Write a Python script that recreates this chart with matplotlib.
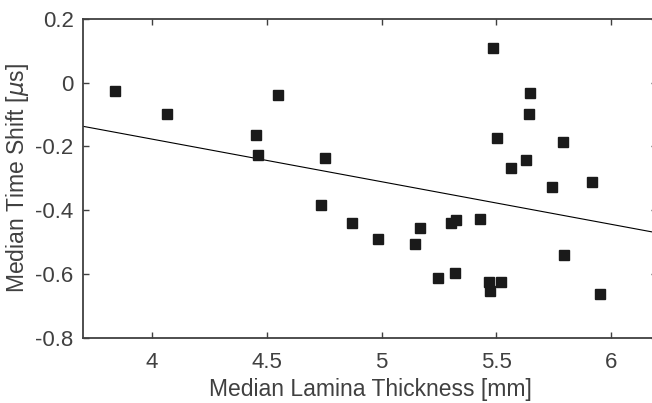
import numpy as np
import matplotlib
matplotlib.use('Agg')
import matplotlib.pyplot as plt

# median lamina thickness [mm] vs median time shift [us]
thickness = [3.837, 4.063, 4.547, 4.451, 4.460, 4.751, 4.734, 4.869, 4.986,
             5.487, 5.648, 5.644, 5.504, 5.792, 5.631, 5.565, 5.744, 5.917,
             5.322, 5.304, 5.430, 5.169, 5.147, 5.796, 5.318, 5.247, 5.466,
             5.522, 5.470, 5.953]
time_shift = [-0.027, -0.097, -0.038, -0.165, -0.228, -0.237, -0.385, -0.441, -0.490,
              0.108, -0.033, -0.099, -0.175, -0.187, -0.244, -0.269, -0.328, -0.313,
              -0.431, -0.441, -0.429, -0.457, -0.507, -0.539, -0.598, -0.614, -0.624,
              -0.624, -0.655, -0.664]

# linear fit
fit_x = [3.7, 6.2]
fit_y = [-0.137, -0.471]

plt.rcParams['font.family'] = ['Liberation Sans', 'DejaVu Sans']
axis_color = '#404040'

fig = plt.figure(figsize=(6.52, 4.03), dpi=100)
ax = fig.add_axes([0.1278, 0.162, 0.880, 0.791])

ax.plot(fit_x, fit_y, color='black', linewidth=0.8)
ax.plot(thickness, time_shift, 's', color='#1a1a1a', markersize=7.5)

ax.set_xlim(3.7, 6.2)
ax.set_ylim(-0.8, 0.2)
ax.set_xticks([4, 4.5, 5, 5.5, 6])
ax.set_xticklabels(['4', '4.5', '5', '5.5', '6'])
ax.set_yticks([-0.8, -0.6, -0.4, -0.2, 0, 0.2])
ax.set_yticklabels(['-0.8', '-0.6', '-0.4', '-0.2', '0', '0.2'])

ax.set_xlabel('Median Lamina Thickness [mm]', color=axis_color, fontsize=16.5, labelpad=4)
ax.set_ylabel(r'Median Time Shift [$\mu$s]', color=axis_color, fontsize=16.5, labelpad=3)

ax.tick_params(direction='in', top=True, right=True, length=4.5, width=1,
               colors=axis_color, labelsize=16)
ax.tick_params(axis='x', pad=10)
ax.tick_params(axis='y', pad=7)
for s in ax.spines.values():
    s.set_color(axis_color)
    s.set_linewidth(1.3)

fig.savefig('out.png', dpi=100)
